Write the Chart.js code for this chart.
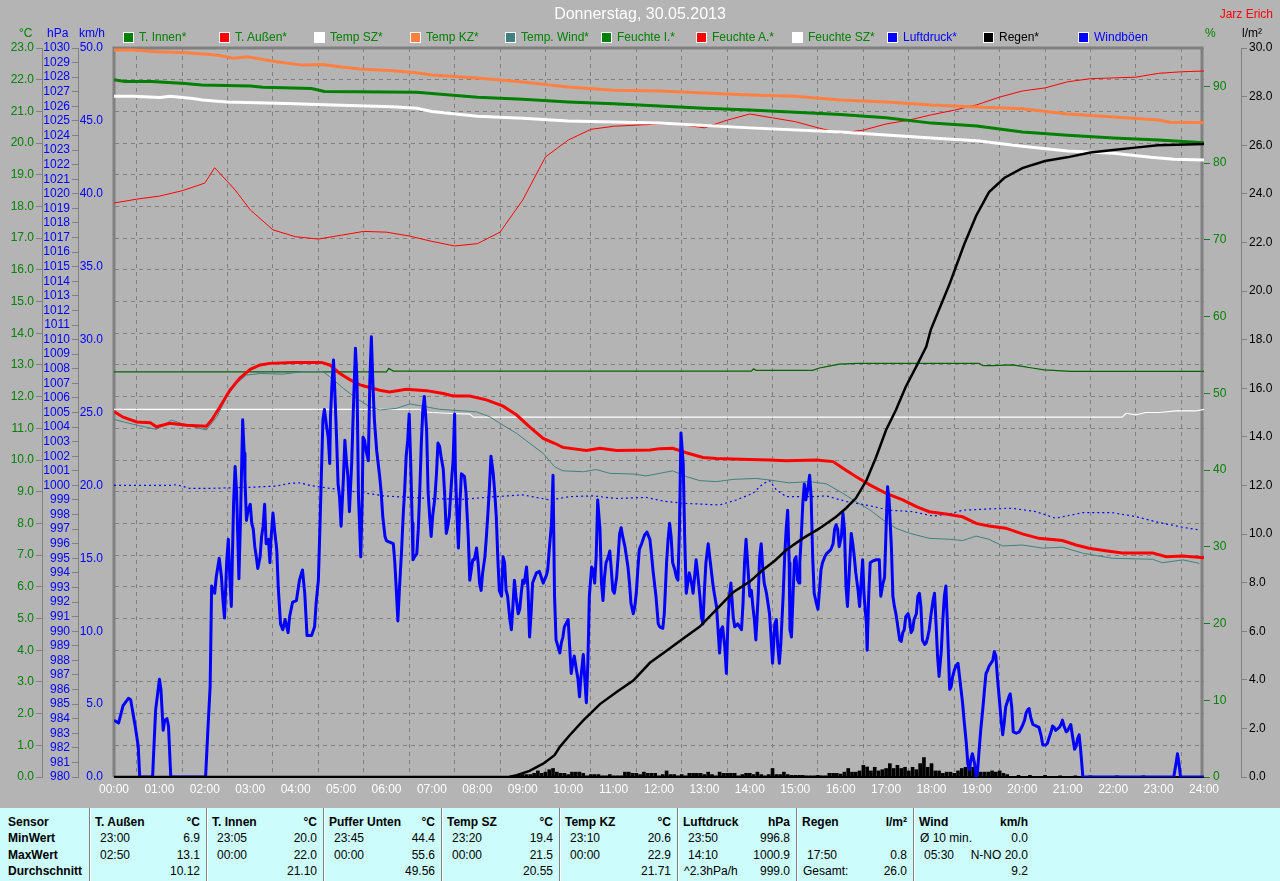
<!DOCTYPE html>
<html lang="de">
<head>
<meta charset="utf-8">
<title>Donnerstag, 30.05.2013</title>
<script src="https://cdn.jsdelivr.net/npm/chart.js@4.4.1/dist/chart.umd.min.js"></script>
<style>
  body { margin: 0; background: #b4b4b4; font-family: 'Liberation Sans', Arial, sans-serif; }
  #page { position: relative; width: 1280px; height: 881px; overflow: hidden; background: #b4b4b4; }
  #chart { position: absolute; left: 0; top: 0; }
  .txt { position: absolute; font-size: 12px; line-height: 14px; white-space: nowrap; }
  #title { position: absolute; top: 5px; left: 0; width: 1280px; text-align: center; color: #fff; font-size: 16px; }
  .box { position: absolute; width: 9px; height: 9px; border: 1px solid #fff; }
  #table { position: absolute; left: 0; top: 808px; width: 1280px; height: 73px; background: #ccfcfc; }
  .sep { position: absolute; top: 0; width: 1px; height: 73px; background: #808080; border-right: 1px solid #fff; }
  .b { font-weight: bold; }
</style>
</head>
<body>
<div id="page">
  <canvas id="chart" width="1280" height="808"></canvas>
  <div id="title">Donnerstag, 30.05.2013</div>
  <div class="txt" style="right:7px;top:7px;color:#f00;">Jarz Erich</div>
  <div class="txt" style="left:19px;top:26px;color:#008000;">°C</div>
  <div class="txt" style="left:47px;top:26px;color:#00f;">hPa</div>
  <div class="txt" style="left:79px;top:26px;color:#00f;">km/h</div>
  <div class="txt" style="left:1205px;top:26px;color:#008000;">%</div>
  <div class="txt" style="left:1242px;top:26px;color:#000;">l/m²</div>
  <div id="legend"></div>
  <div id="table"></div>
</div>
<script>
// Zeit in Minuten seit 00:00, Wert
const tInnen = [[0,22.0],[14,21.94],[50,21.94],[94,21.88],[116,21.83],[180,21.8],[197,21.76],[261,21.72],[278,21.63],[400,21.6],[480,21.45],[540,21.38],[600,21.3],[660,21.24],[720,21.17],[780,21.1],[840,21.04],[900,20.97],[960,20.9],[1020,20.8],[1080,20.63],[1140,20.54],[1200,20.35],[1260,20.25],[1320,20.16],[1380,20.1],[1440,20.01]];

const tAussen = [[0,11.53],[12,11.35],[30,11.2],[48,11.18],[56,11.05],[74,11.16],[96,11.1],[122,11.07],[129,11.26],[140,11.68],[153,12.2],[166,12.58],[180,12.86],[193,13.0],[206,13.05],[237,13.08],[274,13.08],[285,13.0],[298,12.74],[312,12.53],[325,12.37],[338,12.29],[351,12.2],[364,12.15],[386,12.23],[413,12.19],[435,12.1],[448,12.02],[470,12.02],[492,11.9],[514,11.7],[532,11.42],[549,11.05],[567,10.68],[582,10.53],[593,10.4],[624,10.3],[642,10.37],[664,10.3],[708,10.32],[721,10.36],[738,10.37],[756,10.23],[778,10.08],[796,10.05],[840,10.02],[866,10.0],[888,9.98],[928,10.0],[950,9.95],[963,9.74],[980,9.48],[999,9.21],[1020,8.95],[1042,8.74],[1060,8.53],[1077,8.37],[1099,8.3],[1121,8.21],[1139,8.0],[1156,7.92],[1178,7.85],[1200,7.67],[1222,7.53],[1253,7.46],[1271,7.32],[1288,7.22],[1310,7.14],[1332,7.07],[1372,7.07],[1390,6.95],[1412,6.97],[1440,6.92]];

const tempSZ = [[0,21.48],[25,21.48],[61,21.44],[74,21.48],[104,21.41],[117,21.36],[149,21.3],[228,21.25],[289,21.2],[368,21.15],[400,21.1],[420,21.0],[480,20.85],[540,20.78],[600,20.7],[720,20.63],[840,20.48],[960,20.35],[1080,20.16],[1140,20.07],[1200,19.9],[1260,19.75],[1320,19.68],[1370,19.55],[1400,19.49],[1440,19.47]];

const tempKZ = [[0,22.94],[25,22.94],[57,22.88],[96,22.85],[123,22.8],[140,22.76],[157,22.68],[176,22.72],[197,22.64],[219,22.55],[249,22.46],[276,22.48],[298,22.41],[325,22.34],[368,22.28],[400,22.22],[420,22.15],[480,22.05],[540,21.93],[600,21.77],[660,21.67],[720,21.64],[780,21.58],[840,21.52],[900,21.48],[960,21.36],[1020,21.3],[1080,21.2],[1140,21.14],[1200,21.08],[1260,20.92],[1320,20.82],[1380,20.73],[1395,20.66],[1440,20.65]];

const tempWind = [[0,11.28],[30,11.1],[56,10.97],[76,11.26],[96,11.1],[122,10.95],[136,11.37],[149,12.0],[162,12.42],[175,12.68],[193,12.73],[223,12.71],[250,12.79],[276,12.79],[285,12.63],[303,12.26],[320,11.95],[338,11.68],[351,11.58],[373,11.63],[391,11.77],[408,11.7],[430,11.6],[461,11.55],[479,11.52],[496,11.37],[514,11.1],[532,10.84],[549,10.53],[567,10.21],[582,9.79],[593,9.66],[620,9.63],[637,9.7],[655,9.58],[686,9.56],[703,9.5],[725,9.6],[738,9.66],[756,9.48],[774,9.35],[796,9.32],[818,9.39],[848,9.42],[866,9.37],[892,9.28],[919,9.32],[941,9.25],[963,8.95],[980,8.69],[999,8.42],[1016,8.11],[1033,7.85],[1051,7.69],[1077,7.53],[1104,7.5],[1121,7.46],[1139,7.6],[1156,7.5],[1174,7.29],[1200,7.32],[1227,7.22],[1253,7.25],[1280,7.06],[1319,6.9],[1372,6.87],[1385,6.76],[1412,6.85],[1434,6.74]];

const feuchteI = [[0,52.8],[360,52.8],[363,53.25],[369,52.9],[842,52.9],[845,53.2],[848,53.0],[923,53.0],[932,53.3],[943,53.5],[958,53.8],[982,53.9],[1143,53.9],[1148,53.6],[1161,53.6],[1187,53.7],[1200,53.5],[1213,53.3],[1229,53.05],[1264,52.85],[1440,52.85]];

const feuchteA = [[0,74.8],[30,75.3],[60,75.7],[90,76.4],[120,77.4],[133,79.4],[160,76.5],[180,73.9],[210,71.3],[240,70.4],[270,70.1],[300,70.6],[330,71.1],[360,71.0],[390,70.5],[420,69.8],[450,69.2],[480,69.5],[510,71.0],[540,75.2],[570,80.8],[600,83.0],[630,84.4],[660,84.8],[720,85.1],[750,85.0],[780,84.6],[810,85.6],[840,86.4],[870,85.9],[900,85.4],[930,84.6],[960,83.9],[990,84.3],[1020,85.1],[1050,85.6],[1080,86.3],[1110,86.9],[1140,87.6],[1170,88.6],[1200,89.4],[1230,89.8],[1260,90.6],[1290,91.0],[1320,91.1],[1350,91.2],[1380,91.7],[1410,91.9],[1440,92.0]];

const feuchteSZ = [[0,47.9],[404,47.9],[408,47.6],[420,47.5],[440,47.4],[470,47.3],[475,46.9],[1332,46.9],[1337,47.4],[1350,47.2],[1363,47.5],[1381,47.5],[1403,47.7],[1429,47.7],[1440,47.9]];

const luftdruck = [[0,1000.0],[74,1000.0],[83,1000.05],[100,999.8],[127,999.8],[180,999.87],[215,999.96],[232,1000.14],[246,1000.17],[259,1000.0],[285,999.8],[329,999.5],[356,999.28],[417,999.1],[461,999.05],[505,999.23],[540,999.35],[576,999.0],[602,999.23],[633,999.28],[664,999.1],[703,999.18],[725,998.93],[752,998.77],[800,998.66],[822,999.0],[844,999.46],[857,1000.1],[866,1000.33],[875,999.7],[888,999.23],[923,999.23],[941,999.28],[967,998.9],[999,998.6],[1024,998.3],[1055,998.2],[1082,997.9],[1104,998.04],[1121,998.3],[1163,998.4],[1187,998.43],[1218,998.2],[1244,997.75],[1280,998.13],[1319,998.13],[1350,997.86],[1381,997.45],[1412,997.13],[1434,996.94]];

const regenSumme = [[0,0],[522,0],[532,0.07],[549,0.25],[567,0.55],[582,0.9],[589,1.24],[602,1.72],[620,2.33],[642,3.0],[664,3.5],[686,3.97],[708,4.7],[730,5.2],[752,5.7],[774,6.19],[796,6.9],[818,7.6],[840,8.04],[857,8.52],[873,8.9],[888,9.34],[910,9.82],[932,10.23],[954,10.71],[967,11.06],[980,11.47],[994,12.2],[1007,13.18],[1020,14.28],[1033,15.1],[1046,16.06],[1060,16.9],[1073,17.7],[1079,18.4],[1104,20.3],[1123,21.9],[1139,23.1],[1156,24.07],[1176,24.65],[1200,25.06],[1230,25.35],[1259,25.5],[1290,25.7],[1320,25.8],[1349,25.9],[1379,26.0],[1440,26.05]];

const regenMenge = [[525,0.05],[530,0.05],[535,0.1],[540,0.1],[545,0.1],[550,0.1],[555,0.15],[560,0.25],[565,0.15],[570,0.2],[575,0.3],[580,0.35],[585,0.2],[590,0.15],[595,0.15],[600,0.1],[605,0.2],[610,0.2],[615,0.2],[620,0.15],[625,0.05],[630,0.1],[635,0.1],[640,0.1],[645,0.05],[650,0.05],[655,0.1],[660,0.05],[665,0.05],[670,0.05],[675,0.2],[680,0.2],[685,0.15],[690,0.15],[695,0.1],[700,0.2],[705,0.15],[710,0.15],[715,0.15],[720,0.05],[725,0.1],[730,0.25],[735,0.1],[740,0.1],[745,0.05],[750,0.1],[755,0.05],[760,0.15],[765,0.15],[770,0.15],[775,0.15],[780,0.1],[785,0.2],[790,0.1],[795,0.05],[800,0.2],[805,0.15],[810,0.15],[815,0.15],[820,0.15],[825,0.05],[830,0.1],[835,0.15],[840,0.15],[845,0.1],[850,0.2],[855,0.1],[860,0.05],[865,0.1],[870,0.35],[875,0.1],[880,0.1],[885,0.2],[890,0.1],[895,0.07],[900,0.07],[905,0.07],[910,0.07],[915,0.05],[920,0.05],[925,0.05],[930,0.07],[935,0.05],[940,0.05],[945,0.15],[950,0.15],[955,0.15],[960,0.12],[965,0.2],[970,0.35],[975,0.2],[980,0.2],[985,0.25],[990,0.48],[995,0.41],[1000,0.25],[1005,0.4],[1010,0.25],[1015,0.3],[1020,0.35],[1025,0.55],[1030,0.35],[1035,0.48],[1040,0.35],[1045,0.4],[1050,0.25],[1055,0.4],[1060,0.3],[1065,0.55],[1070,0.8],[1075,0.4],[1080,0.55],[1085,0.25],[1090,0.25],[1095,0.15],[1100,0.2],[1105,0.2],[1110,0.15],[1115,0.25],[1120,0.35],[1125,0.4],[1130,0.55],[1135,0.4],[1140,0.25],[1145,0.2],[1150,0.2],[1155,0.2],[1160,0.25],[1165,0.2],[1170,0.25],[1175,0.15],[1180,0.1],[1195,0.07],[1210,0.07],[1230,0.07],[1250,0.05],[1270,0.05],[1290,0.05],[1325,0.05],[1360,0.05]];

const windboeen = [[0,3.9],[6,3.7],[12,4.9],[19,5.4],[22,5.3],[28,3.5],[32,2.1],[34,0],[51,0],[52,1.2],[55,4.6],[60,6.7],[62,6.0],[65,3.2],[67,3.9],[70,4.0],[72,3.5],[75,0],[121,0],[124,3.2],[127,6.2],[129,13.1],[133,12.6],[135,13.7],[139,15.0],[142,13.7],[144,12.1],[146,10.9],[149,14.9],[151,16.3],[153,13.7],[155,11.7],[158,18.8],[160,21.3],[162,19.5],[164,15.6],[165,13.6],[167,17.4],[170,24.5],[172,22.2],[173,20.4],[175,17.6],[177,18.3],[180,18.7],[182,17.4],[184,17.0],[186,15.8],[188,15.1],[190,14.3],[193,15.1],[195,16.5],[197,17.2],[199,18.7],[201,16.0],[204,16.3],[206,14.7],[207,16.0],[210,18.1],[212,17.0],[215,15.6],[217,13.0],[220,10.5],[223,10.1],[226,10.8],[230,9.9],[232,11.0],[236,12.0],[241,12.1],[245,13.5],[249,14.2],[252,12.6],[255,9.7],[261,9.7],[265,10.3],[267,11.9],[270,13.5],[272,17.0],[274,20.8],[276,24.5],[278,25.2],[281,24.0],[283,23.3],[285,21.5],[286,24.7],[288,27.0],[290,28.6],[292,26.1],[294,23.3],[296,20.1],[298,19.2],[300,17.2],[303,20.4],[305,23.1],[307,21.7],[309,20.6],[311,18.2],[314,21.5],[316,24.9],[319,29.4],[321,27.2],[323,19.2],[326,15.1],[328,19.2],[329,23.3],[331,23.1],[333,22.4],[336,21.7],[338,27.2],[340,30.2],[342,27.0],[344,24.5],[347,22.4],[349,21.5],[351,20.6],[353,19.5],[355,17.9],[358,16.5],[360,16.2],[369,16.0],[371,14.7],[373,12.8],[375,10.7],[377,12.8],[380,15.6],[382,17.9],[384,19.7],[386,22.0],[388,23.1],[390,24.9],[392,21.5],[394,17.4],[395,14.9],[397,15.1],[400,15.3],[402,17.0],[404,19.7],[406,22.9],[408,25.2],[410,26.1],[413,23.8],[415,19.5],[417,17.9],[419,16.5],[421,17.9],[424,19.2],[426,20.8],[428,22.9],[430,22.7],[432,22.0],[435,21.1],[437,19.2],[439,16.7],[441,17.2],[443,17.9],[446,20.4],[448,21.7],[450,24.9],[451,21.1],[453,18.1],[455,15.7],[457,18.8],[459,20.8],[461,20.7],[463,20.6],[465,19.5],[468,16.5],[470,13.5],[472,14.2],[474,14.9],[476,14.9],[479,15.7],[481,14.7],[483,13.3],[485,12.8],[487,14.0],[490,15.1],[492,16.5],[494,18.1],[496,19.9],[498,22.0],[501,20.8],[503,19.5],[505,17.9],[507,15.1],[509,12.8],[512,12.4],[514,15.1],[516,14.7],[518,12.8],[520,12.4],[523,10.8],[525,10.1],[527,11.7],[529,13.5],[531,12.4],[534,11.2],[536,11.5],[538,12.6],[540,13.5],[542,13.3],[545,14.4],[547,12.8],[549,9.6],[551,11.2],[553,13.3],[558,14.0],[562,14.1],[567,13.3],[571,13.8],[573,14.2],[575,15.6],[578,17.4],[580,20.7],[582,12.4],[584,9.4],[589,8.5],[591,9.2],[593,9.6],[595,10.3],[600,10.8],[602,8.9],[604,7.1],[606,7.8],[608,8.3],[611,7.3],[613,6.7],[615,5.5],[617,6.9],[620,8.4],[622,6.7],[624,5.1],[626,7.8],[628,12.4],[631,14.4],[633,14.2],[635,13.3],[637,15.1],[639,19.0],[642,17.0],[644,13.3],[646,12.1],[648,13.7],[650,14.7],[653,15.1],[655,15.5],[657,14.2],[659,12.8],[661,12.6],[664,13.7],[666,15.1],[668,16.7],[670,17.1],[672,16.5],[675,15.8],[677,15.1],[679,14.4],[681,13.3],[683,11.9],[686,11.2],[688,11.7],[690,12.6],[692,14.2],[694,15.6],[697,16.0],[699,16.3],[701,16.6],[704,16.8],[708,16.3],[710,15.3],[712,14.2],[714,13.3],[716,12.4],[719,10.5],[721,10.3],[725,10.2],[727,11.2],[730,14.7],[732,16.3],[734,17.4],[736,16.5],[738,14.7],[741,14.2],[743,13.7],[745,13.5],[747,17.0],[749,23.6],[752,21.5],[754,16.3],[756,12.6],[758,13.3],[760,14.0],[763,13.3],[765,12.6],[767,13.7],[769,14.9],[771,14.0],[774,12.4],[776,11.0],[778,10.5],[780,12.8],[782,14.7],[785,16.0],[787,15.1],[789,14.2],[791,13.3],[793,12.6],[796,11.7],[798,10.1],[800,8.5],[802,10.1],[804,10.3],[807,8.9],[809,7.1],[811,10.5],[813,12.4],[815,13.3],[818,11.0],[820,10.3],[824,10.5],[829,10.1],[831,11.9],[833,14.7],[835,16.3],[837,14.7],[840,12.4],[842,12.8],[844,11.7],[846,10.8],[848,9.4],[851,12.4],[853,15.1],[855,16.0],[857,14.4],[859,13.3],[862,12.6],[864,11.9],[866,11.2],[868,9.6],[870,7.8],[873,10.5],[875,10.8],[877,8.9],[879,7.8],[881,9.2],[884,12.4],[886,15.1],[888,17.0],[890,18.3],[892,14.7],[893,10.1],[895,9.6],[897,12.4],[899,14.9],[901,15.1],[903,13.5],[905,13.3],[906,14.7],[908,16.5],[910,18.8],[912,20.1],[914,19.0],[917,19.9],[919,20.7],[921,19.2],[923,15.1],[925,12.6],[928,11.9],[930,11.5],[932,12.8],[934,14.2],[936,14.7],[939,15.1],[941,15.3],[947,15.6],[950,16.0],[952,17.0],[954,17.3],[956,17.0],[958,15.8],[961,16.5],[963,18.1],[965,17.0],[967,13.1],[969,11.7],[972,14.7],[974,16.7],[976,16.0],[978,15.1],[980,14.0],[983,12.8],[985,11.7],[987,13.3],[989,14.9],[991,12.4],[994,10.5],[995,8.7],[997,12.4],[999,14.7],[1002,14.8],[1007,14.9],[1011,14.9],[1013,12.4],[1016,13.3],[1018,13.7],[1020,17.0],[1022,19.9],[1024,19.0],[1027,15.8],[1029,12.4],[1031,11.7],[1033,11.2],[1035,10.5],[1038,9.4],[1040,9.3],[1042,9.9],[1044,10.1],[1046,11.0],[1049,11.2],[1051,10.8],[1053,9.9],[1055,10.1],[1057,10.8],[1060,11.2],[1062,12.4],[1064,12.6],[1066,11.7],[1068,9.4],[1071,9.1],[1073,9.2],[1075,9.6],[1077,10.1],[1079,11.0],[1082,12.1],[1084,12.6],[1086,10.5],[1088,8.3],[1090,6.9],[1093,8.7],[1095,10.8],[1097,12.4],[1099,13.1],[1101,10.5],[1104,6.0],[1106,6.2],[1108,6.9],[1110,7.3],[1112,7.6],[1115,7.8],[1117,6.9],[1119,6.0],[1121,5.1],[1123,3.9],[1126,2.3],[1128,0.9],[1130,0.5],[1132,1.2],[1134,1.6],[1137,0.9],[1139,0],[1141,0.5],[1143,1.9],[1145,3.2],[1148,4.8],[1150,6.0],[1152,7.1],[1154,7.3],[1156,7.6],[1161,8.0],[1163,8.6],[1165,8.3],[1167,6.9],[1170,5.1],[1172,3.9],[1174,2.9],[1176,3.7],[1178,4.8],[1181,5.3],[1183,5.6],[1184,5.7],[1186,4.8],[1188,3.1],[1192,3.0],[1196,3.1],[1200,3.5],[1203,3.9],[1205,4.4],[1207,4.6],[1209,4.7],[1211,4.1],[1214,3.6],[1218,3.5],[1222,3.4],[1225,2.8],[1227,2.2],[1231,2.2],[1233,2.3],[1236,2.8],[1238,3.1],[1240,3.5],[1242,3.4],[1244,3.2],[1249,3.4],[1251,3.6],[1253,3.9],[1255,3.5],[1258,3.1],[1260,3.2],[1262,3.4],[1264,3.6],[1266,2.9],[1269,1.9],[1271,2.1],[1273,2.6],[1275,2.9],[1277,1.9],[1280,0],[1400,0],[1403,0.9],[1405,1.6],[1407,0.9],[1409,0],[1440,0]];

// Legende
const legendNames = ['T. Innen*', 'T. Außen*', 'Temp SZ*', 'Temp KZ*', 'Temp. Wind*', 'Feuchte I.*', 'Feuchte A.*', 'Feuchte SZ*', 'Luftdruck*', 'Regen*', 'Windböen'];
const legendColors = ['#008000', '#ff0000', '#ffffff', '#ff8040', '#408080', '#008000', '#ff0000', '#ffffff', '#0000ff', '#000000', '#0000ff'];
const legendTextColors = ['#008000', '#008000', '#008000', '#008000', '#008000', '#008000', '#008000', '#008000', '#0000ff', '#000000', '#0000ff'];

// Tabelle unten
const sensorNames = ['T. Außen', 'T. Innen', 'Puffer Unten', 'Temp SZ', 'Temp KZ', 'Luftdruck', 'Regen', 'Wind'];
const sensorUnits = ['°C', '°C', '°C', '°C', '°C', 'hPa', 'l/m²', 'km/h'];
const minTimes = ['23:00', '23:05', '23:45', '23:20', '23:10', '23:50', '', 'Ø 10 min.'];
const minValues = ['6.9', '20.0', '44.4', '19.4', '20.6', '996.8', '', '0.0'];
const maxTimes = ['02:50', '00:00', '00:00', '00:00', '00:00', '14:10', '17:50', '05:30'];
const maxValues = ['13.1', '22.0', '55.6', '21.5', '22.9', '1000.9', '0.8', 'N-NO 20.0'];
const avgLabels = ['', '', '', '', '', '^2.3hPa/h', 'Gesamt:', ''];
const avgValues = ['10.12', '21.10', '49.56', '20.55', '21.71', '999.0', '26.0', '9.2'];
const rowLabels = ['Sensor', 'MinWert', 'MaxWert', 'Durchschnitt'];

const legend = document.getElementById('legend');
legendNames.forEach((name, i) => {
	const x = Math.round(123 + i * 95.5);
	const box = document.createElement('div');
	box.className = 'box';
	box.style.left = x + 'px';
	box.style.top = '32px';
	box.style.background = legendColors[i];
	legend.appendChild(box);
	const t = document.createElement('div');
	t.className = 'txt';
	t.style.left = (x + 16) + 'px';
	t.style.top = '30px';
	t.style.color = legendTextColors[i];
	t.textContent = name;
	legend.appendChild(t);
});

const table = document.getElementById('table');
const colX = [89, 206, 323, 441, 559, 677, 796, 913];
const rowTop = [7, 23, 40, 56];

function cell(text, left, right, top, bold) {
	const d = document.createElement('div');
	d.className = 'txt' + (bold ? ' b' : '');
	d.style.top = top + 'px';
	if (right != null) {
		d.style.right = (1280 - right) + 'px';
		d.style.textAlign = 'right';
	} else {
		d.style.left = left + 'px';
	}
	d.textContent = text;
	table.appendChild(d);
}

rowLabels.forEach((l, r) => cell(l, 8, null, rowTop[r], true));
sensorNames.forEach((name, i) => {
	const sep = document.createElement('div');
	sep.className = 'sep';
	sep.style.left = colX[i] + 'px';
	table.appendChild(sep);
	const left = colX[i];
	const right = (colX[i + 1] || 1034) - 6;
	cell(name, left + 6, null, rowTop[0], true);
	cell(sensorUnits[i], null, right, rowTop[0], true);
	const tOff = t => /^\d/.test(t) ? 11 : 7;
	if (minTimes[i]) cell(minTimes[i], left + tOff(minTimes[i]), null, rowTop[1]);
	if (minValues[i]) cell(minValues[i], null, right, rowTop[1]);
	cell(maxTimes[i], left + 11, null, rowTop[2]);
	cell(maxValues[i], null, right, rowTop[2]);
	if (avgLabels[i]) cell(avgLabels[i], left + 7, null, rowTop[3]);
	cell(avgValues[i], null, right, rowTop[3]);
});

const toXY = a => a.map(([x, y]) => ({x, y}));
const tickFont = {family: "'Liberation Sans', Arial, sans-serif", size: 12};

// Rahmen um den Plotbereich
const framePlugin = {
	id: 'frame',
	beforeDatasetsDraw(chart) {
		const {ctx, chartArea: a} = chart;
		ctx.save();
		ctx.strokeStyle = '#808080';
		ctx.lineWidth = 3;
		ctx.beginPath();
		ctx.moveTo(a.left, a.bottom);
		ctx.lineTo(a.left, a.top);
		ctx.lineTo(a.right - 2, a.top);
		ctx.lineTo(a.right - 2, a.bottom);
		ctx.stroke();
		ctx.strokeStyle = '#000';
		ctx.lineWidth = 2;
		ctx.beginPath();
		ctx.moveTo(a.left, a.bottom);
		ctx.lineTo(a.right, a.bottom);
		ctx.stroke();
		ctx.restore();
	}
};

const line = (data, color, width, yAxisID, extra) => Object.assign({
	type: 'line', data: toXY(data), borderColor: color, backgroundColor: color,
	borderWidth: width, yAxisID, pointRadius: 0, tension: 0, fill: false
}, extra || {});

new Chart(document.getElementById('chart'), {
	type: 'line',
	data: {
		datasets: [
			line(regenSumme, '#000000', 2.5, 'yR'),
			line(windboeen, '#0000ff', 3, 'yW', {borderJoinStyle: 'round'}),
			line(tAussen, '#ff0000', 3, 'yC'),
			line(tInnen, '#008000', 3, 'yC'),
			line(tempSZ, '#ffffff', 3, 'yC'),
			line(tempKZ, '#ff8040', 3, 'yC'),
			line(tempWind, '#408080', 1, 'yC'),
			line(luftdruck, '#0000ff', 1.2, 'yP', {borderDash: [2, 3]}),
			line(feuchteA, '#ff0000', 1, 'yH'),
			line(feuchteI, '#006400', 1.2, 'yH'),
			line(feuchteSZ, '#ffffff', 1.2, 'yH'),
			{type: 'bar', data: toXY(regenMenge), backgroundColor: '#000000', yAxisID: 'yR', barThickness: 3}
		]
	},
	options: {
		responsive: false,
		animation: false,
		events: [],
		layout: {padding: {top: 48, left: 0, right: 0, bottom: 0}},
		plugins: {legend: {display: false}, tooltip: {enabled: false}},
		scales: {
			x: {
				type: 'linear', min: 0, max: 1440, offset: false,
				ticks: {
					stepSize: 60, autoSkip: false, maxRotation: 0, color: '#ffffff', font: tickFont, padding: 5,
					callback: v => String(Math.floor(v / 60)).padStart(2, '0') + ':00'
				},
				grid: {color: '#808080', drawTicks: false},
				border: {display: false, dash: [4, 4]},
				afterFit: s => { s.height = 31; }
			},
			yW: {
				position: 'left', weight: 0, min: 0, max: 50,
				ticks: {stepSize: 5, color: '#0000ff', font: tickFont, padding: 3, callback: v => v.toFixed(1)},
				grid: {display: false}, border: {display: false},
				afterFit: s => { s.width = 36; }
			},
			yP: {
				position: 'left', weight: 1, min: 980, max: 1030,
				ticks: {stepSize: 1, autoSkip: false, color: '#0000ff', font: tickFont, padding: 2, callback: v => String(v)},
				grid: {drawOnChartArea: false, color: '#808080', tickLength: 6},
				border: {display: true, color: '#808080'},
				afterFit: s => { s.width = 36; }
			},
			yC: {
				position: 'left', weight: 2, min: 0, max: 23,
				ticks: {stepSize: 1, autoSkip: false, color: '#008000', font: tickFont, padding: 2, callback: v => v.toFixed(1)},
				grid: {drawOnChartArea: true, color: '#808080', tickLength: 6},
				border: {display: true, color: '#808080', dash: [4, 4]},
				afterFit: s => { s.width = 42; }
			},
			yH: {
				position: 'right', weight: 0, min: 0, max: 95,
				ticks: {stepSize: 10, includeBounds: false, color: '#008000', font: tickFont, padding: 3},
				grid: {drawOnChartArea: false, color: '#008000', tickLength: 6},
				border: {display: false},
				afterFit: s => { s.width = 37; }
			},
			yR: {
				position: 'right', weight: 1, min: 0, max: 30,
				ticks: {stepSize: 2, color: '#000000', font: tickFont, padding: 2, callback: v => v.toFixed(1)},
				grid: {drawOnChartArea: false, color: '#808080', tickLength: 6},
				border: {display: true, color: '#808080'},
				afterFit: s => { s.width = 39; }
			}
		}
	},
	plugins: [framePlugin]
});
</script>
</body>
</html>
